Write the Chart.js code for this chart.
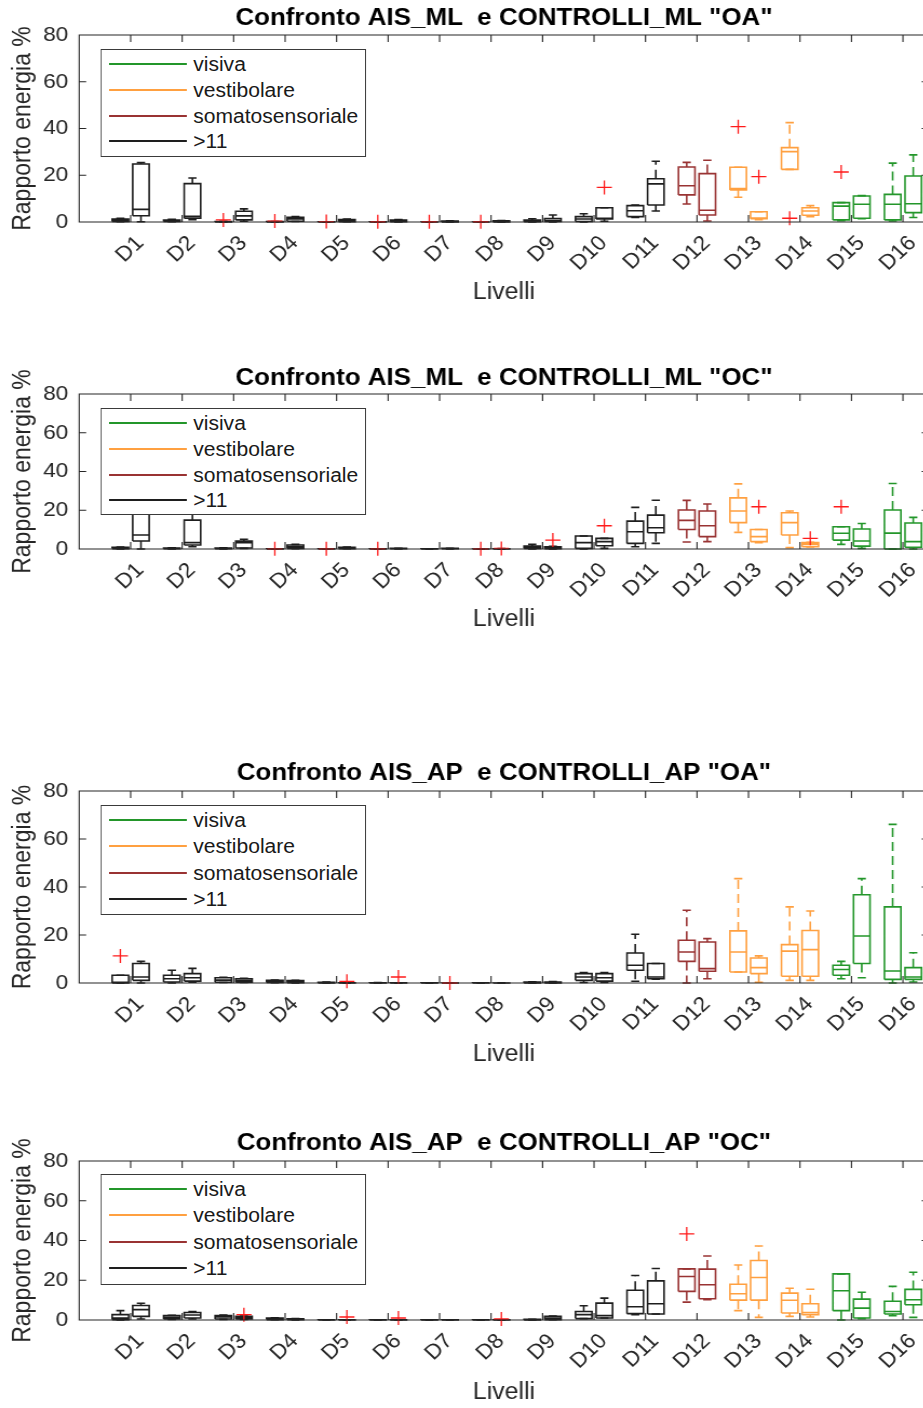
<!DOCTYPE html>
<html><head><meta charset="utf-8">
<script src="https://cdn.jsdelivr.net/npm/chart.js@4.4.1/dist/chart.umd.min.js"></script>
<style>
html,body{margin:0;padding:0;background:#fff;overflow:hidden;width:923px;height:1408px;}
#stage{position:absolute;left:0;top:0;width:880px;height:1408px;transform:scaleX(1.08);transform-origin:0 0;}
.panel{position:absolute;left:0;}
.legend{position:absolute;background:#fff;border:1px solid #3a3a3a;box-sizing:border-box;font-family:"Liberation Sans",Arial,sans-serif;font-size:19.5px;color:#1a1a1a;}
.legend .ln{position:absolute;height:2px;}
.legend .tx{position:absolute;line-height:22px;height:22px;white-space:nowrap;}
</style></head><body><div id="stage"></div>
<script>
// ---------------- DATA ----------------
const categories = ['D1','D2','D3','D4','D5','D6','D7','D8','D9','D10','D11','D12','D13','D14','D15','D16'];
const catGroup = ['>11','>11','>11','>11','>11','>11','>11','>11','>11','>11','>11','somatosensoriale','vestibolare','vestibolare','visiva','visiva'];
const legendLabels = ['visiva','vestibolare','somatosensoriale','>11'];
const yTicks = [0, 20, 40, 60, 80];
const xAxisLabel = 'Livelli';
const yAxisLabel = 'Rapporto energia %';
const titles = ['Confronto AIS_ML  e CONTROLLI_ML "OA"','Confronto AIS_ML  e CONTROLLI_ML "OC"','Confronto AIS_AP  e CONTROLLI_AP "OA"','Confronto AIS_AP  e CONTROLLI_AP "OC"'];

// each entry: [lower whisker, Q1, median, Q3, upper whisker]
const ML_OA_AIS = [[0.1,0.2,0.6,1.3,1.6],[0.1,0.2,0.4,0.8,1.2],[0,0.05,0.1,0.2,0.3],[0,0.05,0.1,0.15,0.2],[0,0.02,0.05,0.08,0.1],[0,0.01,0.02,0.04,0.06],[0,0.01,0.02,0.03,0.05],[0,0.01,0.02,0.03,0.05],[0,0.1,0.3,0.8,1.4],[0,0.2,1.3,2.3,3.5],[2.0,2.3,4.8,7.0,7.3],[7.7,11.6,15.5,23.5,25.5],[10.6,13.7,14.3,23.4,23.4],[22.5,22.5,30.1,31.8,42.5],[0.6,0.9,6.8,8.3,8.3],[0.4,0.9,7.6,11.8,25.2]];
const ML_OA_CTRL = [[0.1,2.7,5.4,24.8,25.4],[1.0,1.6,2.4,16.4,18.8],[0.3,0.9,2.6,4.6,5.6],[0.2,0.3,1.3,2.0,2.3],[0.1,0.15,0.6,1.0,1.3],[0.05,0.1,0.4,0.8,1.0],[0,0.05,0.2,0.4,0.5],[0,0.05,0.2,0.5,0.6],[0,0.2,0.6,1.5,3.0],[0.3,1.3,1.6,6.1,6.1],[4.7,7.3,16.3,18.5,26.0],[0.4,3.0,5.0,20.7,26.4],[1.0,1.4,1.7,4.4,4.4],[2.3,2.9,4.7,6.1,7.0],[1.4,1.6,7.6,11.1,11.3],[1.9,4.0,7.8,19.7,28.7]];
const ML_OA_AIS_OUT = [['D3',0.9],['D4',0.4],['D5',0.2],['D6',0.1],['D7',0.1],['D8',0.1],['D13',40.8],['D14',1.6],['D15',21.4]];
const ML_OA_CTRL_OUT = [['D10',14.8],['D13',19.4]];

const ML_OC_AIS = [[0,0.2,0.5,0.9,1.0],[0,0.1,0.3,0.5,0.6],[0,0.1,0.3,0.5,0.6],[0,0.02,0.05,0.08,0.1],[0,0.01,0.03,0.05,0.07],[0,0.01,0.02,0.04,0.05],[0,0.01,0.03,0.05,0.1],[0,0.01,0.02,0.03,0.05],[0,0.3,0.8,1.5,2.4],[0,0.3,3.3,6.7,6.7],[1.2,2.9,8.9,14.4,21.5],[3.6,10.1,14.8,20.1,25.1],[8.6,13.6,19.6,26.4,33.6],[0.7,7.2,13.6,18.7,19.6],[2.4,4.6,8.1,11.5,11.5],[0,0,8.2,20.1,33.8]];
const ML_OC_CTRL = [[0,4.1,7.2,19,25],[1.2,2.1,3.3,14.9,19],[0.3,0.5,3.3,4.1,5.0],[0.2,0.3,1.2,2.1,2.4],[0.1,0.2,0.5,0.9,1.0],[0.05,0.1,0.2,0.3,0.4],[0.05,0.1,0.2,0.3,0.4],[0,0.05,0.1,0.15,0.2],[0,0.2,0.5,1.2,1.4],[0.3,1.7,3.8,5.5,5.5],[2.9,8.4,11.0,17.5,25.2],[3.8,6.4,12.0,19.6,23.2],[3.3,3.8,6.4,10.1,10.1],[1.0,1.2,2.4,3.3,3.5],[0.3,1.5,4.1,10.3,13.2],[0,0.9,3.8,13.4,16.3]];
const ML_OC_AIS_OUT = [['D4',0.1],['D5',0.1],['D6',0.1],['D8',0.1],['D15',21.8]];
const ML_OC_CTRL_OUT = [['D8',0.3],['D9',4.6],['D10',12.0],['D13',21.8],['D14',5.5]];

const AP_OA_AIS = [[0,0,0.3,3.2,3.2],[0,0.4,1.8,3.2,5.3],[0.2,0.3,1.2,2.2,2.4],[0.1,0.2,0.6,1.1,1.2],[0,0.05,0.15,0.3,0.4],[0,0.02,0.05,0.1,0.15],[0,0.02,0.04,0.06,0.1],[0,0.01,0.02,0.04,0.06],[0,0.05,0.2,0.4,0.5],[0.2,1.1,2.5,3.9,4.4],[0.7,5.3,7.4,12.5,20.3],[0,9.0,12.9,17.8,30.3],[4.6,4.6,12.9,21.7,43.5],[1.1,2.8,13.3,16.0,31.7],[1.8,3.2,5.6,7.4,9.0],[0,1.5,5.0,31.7,66.1]];
const AP_OA_CTRL = [[0,1.1,2.5,8.1,9.0],[0.3,0.8,2.2,3.9,6.1],[0.2,0.3,1.0,1.8,2.0],[0.05,0.1,0.4,1.0,1.1],[0,0.02,0.05,0.1,0.15],[0,0.02,0.04,0.08,0.1],[0,0.01,0.02,0.03,0.05],[0,0.01,0.02,0.03,0.05],[0,0.05,0.2,0.4,0.6],[0.2,0.8,2.2,3.9,4.4],[1.6,1.8,2.5,8.1,8.1],[1.8,4.9,6.0,17.1,18.5],[0.3,3.9,6.4,10.4,11.3],[1.1,2.8,13.9,21.9,30.0],[2.2,8.1,19.6,36.8,43.5],[0.4,1.5,2.5,6.4,12.6]];
const AP_OA_AIS_OUT = [['D1',11.3]];
const AP_OA_CTRL_OUT = [['D5',0.7],['D6',2.5],['D7',0]];

const AP_OC_AIS = [[0,0.2,1.0,2.7,4.7],[0.3,0.5,1.2,2.2,2.4],[0.3,0.5,1.5,2.3,2.5],[0.1,0.2,0.5,1.0,1.1],[0,0.02,0.05,0.1,0.15],[0,0.02,0.04,0.06,0.1],[0,0.01,0.02,0.04,0.06],[0,0.01,0.02,0.04,0.06],[0,0.05,0.2,0.3,0.4],[0.7,0.7,2.7,4.3,7.2],[2.7,3.2,6.7,15.0,22.4],[9.0,14.4,21.9,25.7,25.7],[4.7,10.0,13.2,18.0,27.7],[1.8,3.5,9.9,13.5,16.0],[0,4.7,14.7,23.2,23.2],[2.2,3.0,4.3,9.4,16.9]];
const AP_OC_CTRL = [[0.5,1.8,5.2,7.3,8.4],[0.5,1.0,2.5,3.8,4.3],[0.3,0.5,1.0,1.8,2.0],[0.05,0.1,0.3,0.6,0.7],[0,0.02,0.05,0.1,0.15],[0,0.02,0.04,0.06,0.1],[0,0.01,0.02,0.04,0.06],[0,0.01,0.03,0.05,0.08],[0.1,0.2,0.8,1.8,2.0],[1.0,1.0,2.2,8.5,11.0],[3.0,3.0,8.2,19.7,25.9],[10.2,10.7,17.7,25.6,32.2],[1.3,10.0,21.4,29.9,37.2],[1.5,2.7,3.8,8.2,15.5],[0.7,1.0,6.0,10.5,14.0],[1.3,7.7,10.2,15.4,24.0]];
const AP_OC_AIS_OUT = [['D12',43.3]];
const AP_OC_CTRL_OUT = [['D3',2.7],['D5',1.5],['D6',1.0],['D8',0.5]];

// ---------------- STYLE / LAYOUT ----------------
const groupColor = {'visiva':'#23962a','vestibolare':'#ffa040','somatosensoriale':'#993333','>11':'#1e1e1e'};
const FONT = '"Liberation Sans", Arial, Helvetica, sans-serif';
Chart.defaults.font.family = FONT;
const AX = '#262626';
const CANVAS_W = 880, PLOT_LEFT = 73.3, PLOT_RIGHT = 859.9, XMAX = 16.5;
const OFF = 0.2, HALF_BOX = 0.16, HALF_CAP = 0.08;
const TITLE_SIZE = 24, LABEL_SIZE = 23, TICK_SIZE = 21;

const layouts = [
  {c:18,  pT:35,   pB:222,  L:293,  legTop:49.3,  legH:107.4, gap:25.8},
  {c:378, pT:394,  pB:549,  L:620,  legTop:407.7, legH:107.6, gap:25.8},
  {c:773, pT:791,  pB:983,  L:1055, legTop:805,   legH:110.3, gap:26.4},
  {c:1143,pT:1161, pB:1320, L:1393, legTop:1174.3,legH:111,   gap:26.3}
];
const panelData = [
  [ML_OA_AIS, ML_OA_CTRL, ML_OA_AIS_OUT, ML_OA_CTRL_OUT],
  [ML_OC_AIS, ML_OC_CTRL, ML_OC_AIS_OUT, ML_OC_CTRL_OUT],
  [AP_OA_AIS, AP_OA_CTRL, AP_OA_AIS_OUT, AP_OA_CTRL_OUT],
  [AP_OC_AIS, AP_OC_CTRL, AP_OC_AIS_OUT, AP_OC_CTRL_OUT]
];

function buildDatasets(ais, ctrl, aisOut, ctrlOut) {
  const groups = {};
  Object.keys(groupColor).forEach(g => groups[g] = {box:[], wh:[], cap:[]});
  [[ais,-OFF],[ctrl,OFF]].forEach(([stats, off]) => {
    stats.forEach((s, i) => {
      const [lo,q1,med,q3,hi] = s;
      const p = i + 1 + off;
      const G = groups[catGroup[i]];
      const gapPt = {x:p, y:null};
      G.box.push({x:p-HALF_BOX,y:q1},{x:p+HALF_BOX,y:q1},{x:p+HALF_BOX,y:q3},{x:p-HALF_BOX,y:q3},{x:p-HALF_BOX,y:q1},gapPt,
                 {x:p-HALF_BOX,y:med},{x:p+HALF_BOX,y:med},gapPt);
      if (hi > q3) G.wh.push({x:p,y:q3},{x:p,y:hi},gapPt);
      if (lo < q1) G.wh.push({x:p,y:q1},{x:p,y:lo},gapPt);
      G.cap.push({x:p-HALF_CAP,y:hi},{x:p+HALF_CAP,y:hi},gapPt,{x:p-HALF_CAP,y:lo},{x:p+HALF_CAP,y:lo},gapPt);
    });
  });
  const outPts = [];
  [[aisOut,-OFF],[ctrlOut,OFF]].forEach(([list, off]) => {
    list.forEach(([cat, v]) => outPts.push({x: categories.indexOf(cat) + 1 + off, y: v}));
  });
  const ds = [{
    data: outPts, showLine:false, pointStyle:'cross', pointRadius:7, pointBorderColor:'#ff1a1a',
    pointBorderWidth:1.3, borderColor:'#ff1a1a', clip:false
  }];
  Object.keys(groups).forEach(g => {
    const col = groupColor[g];
    const base = {borderColor:col, pointRadius:0, pointHoverRadius:0, fill:false, spanGaps:false, tension:0, clip:false, showLine:true};
    ds.push(Object.assign({data:groups[g].box, borderWidth:1.6}, base));
    ds.push(Object.assign({data:groups[g].cap, borderWidth:1.6}, base));
    ds.push(Object.assign({data:groups[g].wh, borderWidth:1.6, borderDash:[9,5]}, base));
  });
  return ds;
}

const framePlugin = {
  id: 'frame',
  afterDatasetsDraw(chart) {
    const {ctx, chartArea: a, scales: {x, y}} = chart;
    ctx.save();
    ctx.strokeStyle = AX; ctx.lineWidth = 1.1;
    ctx.beginPath();
    ctx.rect(a.left, a.top, a.right - a.left, a.bottom - a.top);
    x.ticks.forEach(t => {
      const px = x.getPixelForValue(t.value);
      ctx.moveTo(px, a.bottom); ctx.lineTo(px, a.bottom - 7);
      ctx.moveTo(px, a.top); ctx.lineTo(px, a.top + 7);
    });
    y.ticks.forEach(t => {
      const py = y.getPixelForValue(t.value);
      ctx.moveTo(a.left, py); ctx.lineTo(a.left + 6.5, py);
      ctx.moveTo(a.right, py); ctx.lineTo(a.right - 6.5, py);
    });
    ctx.stroke();
    ctx.restore();
  }
};

const stage = document.getElementById('stage');
layouts.forEach((lay, k) => {
  const T = Math.round(lay.c - 15);
  const TITLE_LH = TITLE_SIZE * 1.2, XT_LH = LABEL_SIZE * 1.2;
  const H = Math.round(lay.L - T + XT_LH / 2 + 4);
  const xTitleBottomPad = H - (lay.L - T) - XT_LH / 2;
  const tPadTop = lay.c - T - TITLE_LH / 2;
  const tPadBottom = lay.pT - T - tPadTop - TITLE_LH;
  const xAxisH = H - (lay.pB - T);

  const div = document.createElement('div');
  div.className = 'panel';
  div.style.top = T + 'px';
  const cv = document.createElement('canvas');
  cv.width = CANVAS_W; cv.height = H;
  cv.style.width = CANVAS_W + 'px'; cv.style.height = H + 'px';
  div.appendChild(cv);
  stage.appendChild(div);

  const [ais, ctrl, aisOut, ctrlOut] = panelData[k];
  new Chart(cv, {
    type: 'line',
    data: {datasets: buildDatasets(ais, ctrl, aisOut, ctrlOut)},
    options: {
      responsive: false, animation: false, events: [], devicePixelRatio: 1,
      layout: {padding: {left: 0, top: 0, bottom: 0, right: CANVAS_W - PLOT_RIGHT}},
      plugins: {
        legend: {display: false}, tooltip: {enabled: false},
        title: {display: true, fullSize: false, text: titles[k], color: '#000', font: {size: TITLE_SIZE, weight: 'bold', lineHeight: 1.2},
                padding: {top: tPadTop, bottom: tPadBottom}}
      },
      scales: {
        x: {
          type: 'linear', min: 0, max: XMAX,
          afterBuildTicks: s => { s.ticks = categories.map((c, i) => ({value: i + 1})); },
          afterFit: s => { s.height = xAxisH; },
          ticks: {autoSkip: false, minRotation: 45, maxRotation: 45, color: AX, font: {size: TICK_SIZE},
                  padding: 9, labelOffset: 9, callback: v => categories[Math.round(v) - 1]},
          grid: {display: false, drawTicks: false}, border: {display: false},
          title: {display: true, text: xAxisLabel, color: AX, font: {size: LABEL_SIZE, lineHeight: 1.2}, padding: {top: 0, bottom: xTitleBottomPad}}
        },
        y: {
          min: 0, max: 80,
          afterBuildTicks: s => { s.ticks = yTicks.map(v => ({value: v})); },
          afterFit: s => { s.width = PLOT_LEFT; },
          ticks: {color: AX, font: {size: TICK_SIZE}, padding: 10},
          grid: {display: false, drawTicks: false}, border: {display: false},
          title: {display: true, text: yAxisLabel, color: AX, font: {size: LABEL_SIZE, lineHeight: 1.2}, padding: {top: 7.5, bottom: 0}}
        }
      }
    },
    plugins: [framePlugin]
  });

  // legend box
  const lg = document.createElement('div');
  lg.className = 'legend';
  const lgLeft = 93.2, lgW = 245.6;
  lg.style.left = lgLeft + 'px'; lg.style.top = lay.legTop + 'px';
  lg.style.width = lgW + 'px'; lg.style.height = lay.legH + 'px';
  legendLabels.forEach((name, r) => {
    const cy = Math.round(15 + r * lay.gap - 1);
    const ln = document.createElement('div');
    ln.className = 'ln';
    ln.style.left = '6.4px'; ln.style.width = '72.2px'; ln.style.top = (cy - 1) + 'px';
    ln.style.background = groupColor[name];
    const tx = document.createElement('div');
    tx.className = 'tx';
    tx.style.left = '84.7px'; tx.style.top = (cy - 11) + 'px';
    tx.textContent = name;
    lg.appendChild(ln); lg.appendChild(tx);
  });
  stage.appendChild(lg);
});
</script>
</body></html>
